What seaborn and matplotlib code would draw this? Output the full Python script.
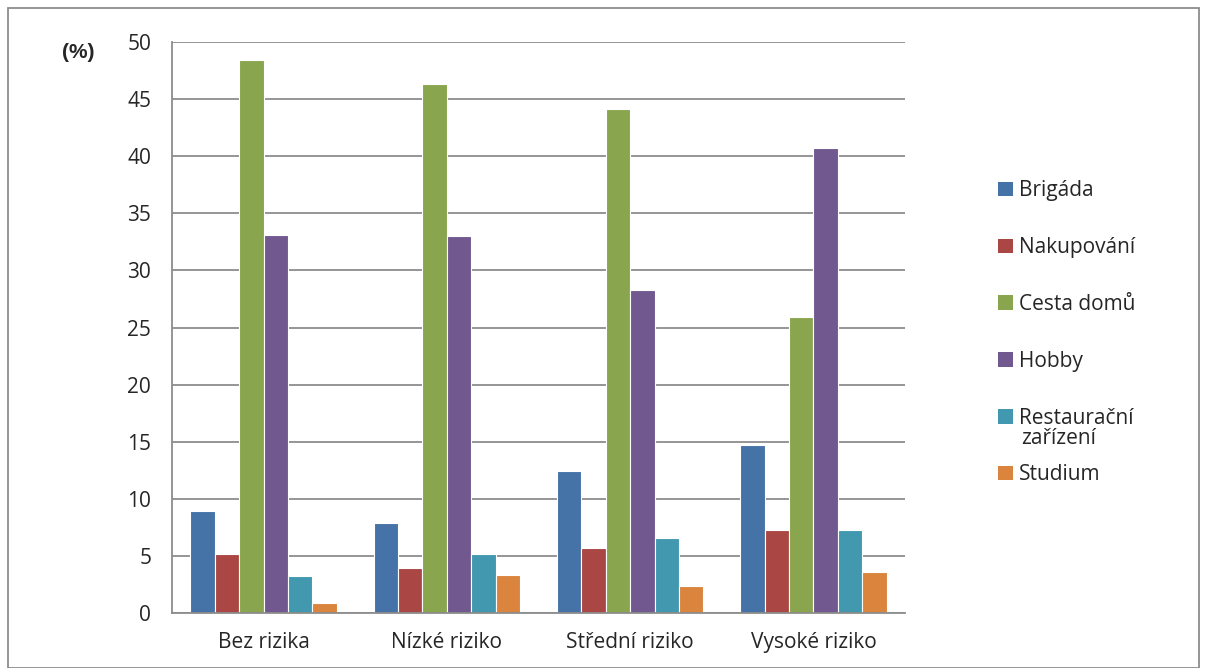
import matplotlib

matplotlib.use("Agg")
import matplotlib.pyplot as plt
import pandas as pd
import seaborn as sns
from matplotlib.patches import Patch, Rectangle

# --- Data ------------------------------------------------------------------
CATEGORIES = ["Bez rizika", "Nízké riziko", "Střední riziko", "Vysoké riziko"]
SERIES = ["Brigáda", "Nakupování", "Cesta domů", "Hobby",
          "Restaurační zařízení", "Studium"]
BRIGADA = [8.9, 7.9, 12.4, 14.7]
NAKUPOVANI = [5.2, 3.9, 5.7, 7.3]
CESTA_DOMU = [48.4, 46.3, 44.1, 25.9]
HOBBY = [33.1, 33.0, 28.3, 40.7]
RESTAURACNI = [3.2, 5.2, 6.6, 7.3]
STUDIUM = [0.9, 3.3, 2.4, 3.6]
Y_TICKS = [0, 5, 10, 15, 20, 25, 30, 35, 40, 45, 50]

COLORS = ["#4572A7", "#AA4643", "#89A54E", "#71588F", "#4198AF", "#DB843D"]

sns.set_style("white")
plt.rcParams["font.family"] = ["Open Sans", "DejaVu Sans"]

values = [BRIGADA, NAKUPOVANI, CESTA_DOMU, HOBBY, RESTAURACNI, STUDIUM]
df = pd.DataFrame(
    [(cat, s, v[i]) for s, v in zip(SERIES, values) for i, cat in enumerate(CATEGORIES)],
    columns=["kategorie", "serie", "hodnota"],
)

fig = plt.figure(figsize=(12.07, 6.68), dpi=100)
ax = fig.add_axes([0.1425, 0.0823, 0.6073, 0.8548])

sns.barplot(data=df, x="kategorie", y="hodnota", hue="serie",
            order=CATEGORIES, hue_order=SERIES, palette=COLORS, saturation=1,
            width=0.8, edgecolor="white", linewidth=0.8, ax=ax, legend=False)

grid_c = "#8c8c8c"
ax.set_ylim(0, 50)
ax.set_xlim(-0.5, len(CATEGORIES) - 0.5)
ax.set_yticks(Y_TICKS)
ax.yaxis.grid(True, color=grid_c, linewidth=1.3)
ax.set_axisbelow(True)
for side in ["top", "right"]:
    ax.spines[side].set_visible(False)
for side in ["left", "bottom"]:
    ax.spines[side].set_color(grid_c)
    ax.spines[side].set_linewidth(1.3)

ax.set_xlabel("")
ax.set_ylabel("")
ax.tick_params(axis="y", length=7, width=1.3, color=grid_c, labelsize=15, pad=8)
ax.tick_params(axis="x", which="major", length=0, labelsize=15, pad=14)
ax.set_xticks([i - 0.5 for i in range(len(CATEGORIES) + 1)], minor=True)
ax.tick_params(axis="x", which="minor", length=7, width=1.3, color=grid_c)

fig.text(78 / 1207, 1 - 52 / 668, "(%)", fontsize=15, fontweight="bold",
         family=["Liberation Sans", "DejaVu Sans"], ha="center", va="center")

# legend: one-line labels, the wrapped second line is added below
handles = [Patch(facecolor=c, edgecolor="none") for c in COLORS]
labels = ["Brigáda", "Nakupování", "Cesta domů", "Hobby", "Restaurační", "Studium"]
fig.legend(handles, labels, loc="upper left",
           bbox_to_anchor=(990 / 1207, 1 - 172 / 668), frameon=False,
           fontsize=15, handlelength=0.7, handleheight=0.7,
           handletextpad=0.3, labelspacing=1.72, borderaxespad=0)
fig.text(1021 / 1207, 1 - 438 / 668, "zařízení", fontsize=15,
         ha="left", va="center")

fig.add_artist(Rectangle((8 / 1207, 0), 1191 / 1207, 1 - 8 / 668,
                         transform=fig.transFigure, fill=False,
                         edgecolor="#8c8c8c", linewidth=1.3))

fig.savefig("out.png", dpi=100)
